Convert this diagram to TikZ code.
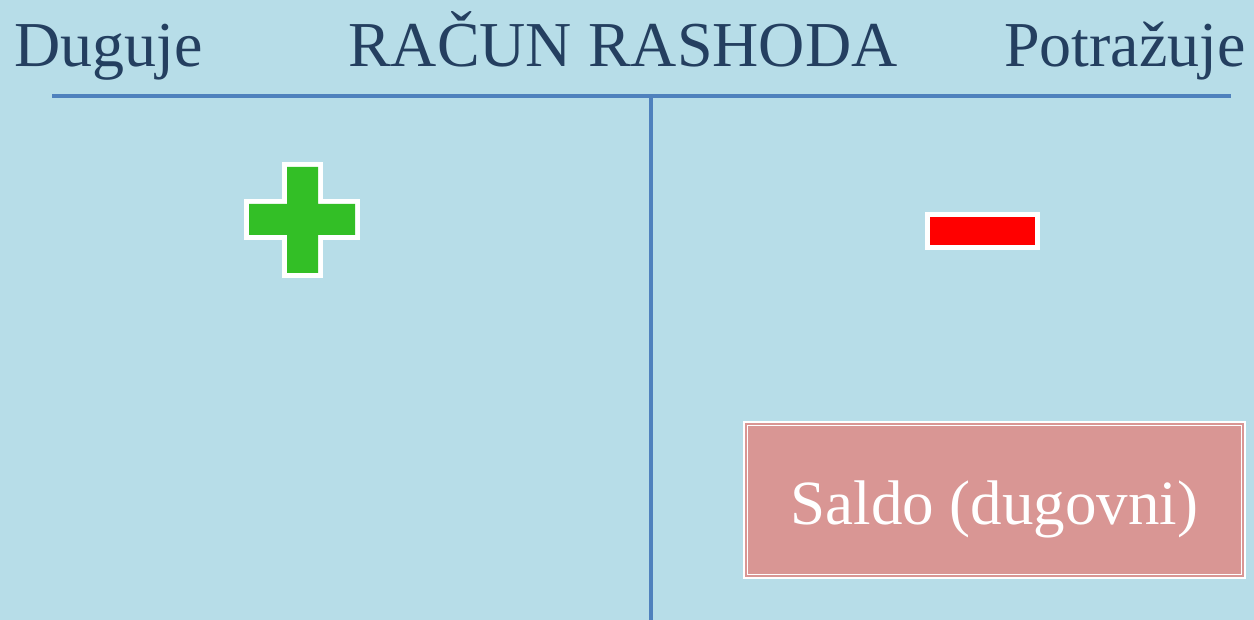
\documentclass[tikz,border=0pt]{standalone}
\usepackage{fontspec}
\setmainfont{Liberation Serif}
\definecolor{bgblue}{HTML}{B7DDE8}
\definecolor{linecol}{HTML}{4F81BD}
\definecolor{txtcol}{HTML}{243F60}
\definecolor{plusgreen}{HTML}{33BF26}
\definecolor{minusred}{HTML}{FF0000}
\definecolor{saldopink}{HTML}{D99694}
\begin{document}
\begin{tikzpicture}[x=1pt,y=-1pt,
  header/.style={inner sep=0pt,text=txtcol,font=\fontsize{64}{70}\selectfont},
  tline/.style={draw=linecol,line width=4.5pt},
  signshape/.style={line join=miter,preaction={draw=white,line width=10pt,line join=miter}},
  saldobox/.style={fill=saldopink,draw=white,line width=2pt,minimum width=501pt,minimum height=156pt,inner sep=0pt},
  saldotxt/.style={inner sep=0pt,text=white,font=\fontsize{63}{70}\selectfont}]
\fill[bgblue] (0,0) rectangle (1254,620);
\useasboundingbox (0,0) rectangle (1254,620);
% headers
\node[header,anchor=base west] (duguje) at (14,67) {Duguje};
\node[header,anchor=base west] (naslov) at (348,67) {RAČUN RASHODA};
\node[header,anchor=base east] (potrazuje) at (1246,67) {Potražuje};
% T-account lines
\coordinate (hl) at (52,96);
\coordinate (hr) at (1231,96);
\coordinate (vt) at (651,96);
\coordinate (vb) at (651,620);
\draw[tline] (hl) -- (hr);
\draw[tline] (vt) -- (vb);
% plus sign
\fill[plusgreen,signshape] (287,167) -- (318,167) -- (318,204) -- (355,204) -- (355,235) -- (318,235) -- (318,273) -- (287,273) -- (287,235) -- (249,235) -- (249,204) -- (287,204) -- cycle;
% minus sign
\fill[minusred,signshape] (930,217) rectangle (1035,245);
% saldo box
\node[saldobox] (saldo) at (994.5,500) {};
\draw[white,line width=1pt] ([shift={(4.5pt,4.5pt)}]saldo.south west) rectangle ([shift={(-4.5pt,-4.5pt)}]saldo.north east);
\node[saldotxt,anchor=base] (saldotext) at (994.5,524) {Saldo (dugovni)};
\end{tikzpicture}
\end{document}
